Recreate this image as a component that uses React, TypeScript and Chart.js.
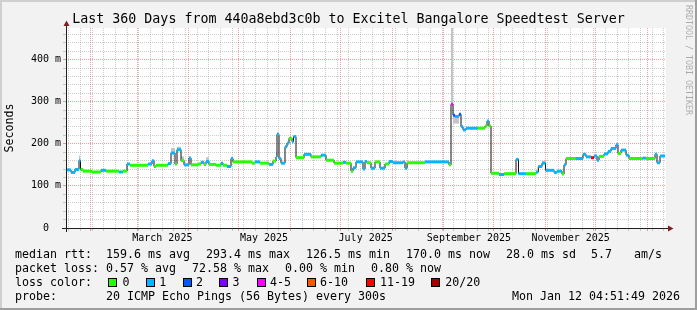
import { useEffect, useRef } from 'react';
import { Chart, registerables } from 'chart.js';

Chart.register(...registerables);

// ---------- texts ----------
const TITLE = 'Last 360 Days from 440a8ebd3c0b to Excitel Bangalore Speedtest Server';
const Y_TITLE = 'Seconds';
const WATERMARK = 'RRDTOOL / TOBI OETIKER';

// ---------- time axis ----------
const END_TIME = Date.UTC(2026, 0, 12, 4, 51, 49);
const RANGE_DAYS = 360;
const DAY_MS = 86400000;
const START_TIME = END_TIME - RANGE_DAYS * DAY_MS;

const monthGridDates = ['2025-02-01', '2025-03-01', '2025-04-01', '2025-05-01', '2025-06-01', '2025-07-01', '2025-08-01', '2025-09-01', '2025-10-01', '2025-11-01', '2025-12-01', '2026-01-01'];
const weekGridFirst = '2025-01-19';
const xLabelDates = ['2025-03-16', '2025-05-16', '2025-07-16', '2025-09-16', '2025-11-16'];
const xLabels = ['March 2025', 'May 2025', 'July 2025', 'September 2025', 'November 2025'];

// ---------- value axis ----------
const Y_MAX = 475;
const Y_GRID_STEP = 20;
const yLabelValues = [0, 100, 200, 300, 400];
const yLabels = ['0  ', '100 m', '200 m', '300 m', '400 m'];

// ---------- loss classes ----------
const lossColors = ['#26ff00', '#00b8ff', '#0059ff', '#7e00ff', '#ff00ff', '#ff5500', '#ff0000', '#a00000'];
const lossLabels = ['0', '1', '2', '3', '4-5', '6-10', '11-19', '20/20'];

// ---------- median rtt (ms), as runs: start day, value, loss class ----------
const runStart = [0, 3, 5.4, 7.8, 8.7, 10.2, 15.6, 21, 24, 31.8, 34.2, 36.6, 38.4, 49.2, 51.6, 52.8, 54, 61.2, 63, 65.4, 66.6, 69, 70.8, 73.8, 75, 79.2, 81, 82.8, 84, 85.8, 90, 93, 94.2, 96.6, 99, 100.2, 111.6, 113.4, 116.4, 121.8, 124.2, 126, 126.6, 127.8, 129, 131.4, 132.6, 133.8, 135.6, 136.5, 138, 142.8, 147, 153, 156, 160.8, 166.2, 168, 171, 172.2, 174, 178.2, 179.4, 180.6, 183, 185.4, 188.4, 191.4, 193.8, 196.2, 202.2, 203.4, 204.6, 215.4, 229.8, 231, 232.2, 233.4, 235.8, 237, 238.2, 240, 247, 251.4, 252.6, 253.8, 255, 259.8, 262.8, 270, 271.5, 276, 282, 283.4, 285.6, 287.7, 292.8, 294.6, 297.6, 298.8, 300, 306, 310.2, 312, 315, 316.8, 318.6, 319.8, 322.8, 325.2, 327, 330, 331.2, 333, 336, 337.8, 346, 348, 353.4, 354.6, 356.4];
const runValue = [138, 132, 139, 160, 139, 135, 133, 137, 135, 133, 135, 152, 149, 152, 160, 146, 149, 153, 178, 152, 186, 160, 150, 166, 150, 152, 156, 151, 158, 151, 149, 154, 149, 146, 165, 157, 154, 157, 154, 151, 159, 169, 222, 165, 154, 193, 201, 213, 205, 217, 167, 175, 169, 173, 161, 154, 156, 154, 135, 143, 157, 140, 158, 155, 142, 157, 142, 152, 158, 155, 157, 142, 155, 157, 150, 294, 268, 265, 270, 241, 233, 237, 237, 242, 254, 242, 130, 127, 129, 163, 129, 129, 133, 146, 154, 137, 132, 135, 128, 150, 165, 165, 175, 169, 167, 171, 161, 170, 176, 182, 189, 198, 177, 185, 173, 165, 166, 165, 175, 155, 171];
const runLoss = [1, 1, 1, 1, 0, 0, 0, 1, 0, 1, 0, 1, 0, 1, 1, 0, 0, 1, 1, 0, 1, 0, 1, 1, 0, 0, 1, 0, 1, 0, 0, 1, 0, 1, 1, 0, 0, 1, 0, 1, 0, 1, 1, 1, 1, 1, 1, 0, 1, 1, 0, 1, 0, 1, 0, 0, 1, 0, 0, 1, 1, 1, 1, 0, 1, 0, 1, 0, 1, 1, 1, 1, 0, 1, 0, 4, 2, 1, 2, 1, 1, 1, 0, 0, 1, 0, 0, 1, 0, 1, 1, 0, 1, 1, 1, 1, 1, 1, 0, 1, 0, 1, 1, 1, 6, 1, 1, 0, 1, 1, 1, 1, 0, 1, 1, 0, 1, 0, 1, 1, 1];
const LAST_DAY = 359.4;

// ---------- smoke (ping spread, ms) ----------
const smokeStart = [7.8, 63, 66.6, 69, 84, 126, 126.6, 136.5, 231, 232.2, 285.6, 330];
const smokeEnd = [8.7, 65.4, 69, 70.8, 85.8, 126.6, 127.8, 138, 232.2, 235.8, 287.7, 331.2];
const smokeLow = [160, 178, 186, 160, 158, 169, 222, 217, 294, 248, 154, 198];
const smokeHigh = [172, 190, 193, 170, 168, 181, 228, 221, 475, 268, 160, 203];

// ---------- legend texts ----------
const rttHead = 'median rtt:';
const rttStats = ['159.6 ms avg', '293.4 ms max', '126.5 ms min', '170.0 ms now', '28.0 ms sd', '5.7', 'am/s'];
const lossHead = 'packet loss:';
const lossStats = ['0.57 % avg', '72.58 % max', '0.00 % min', '0.80 % now'];
const colorHead = 'loss color:';
const probeHead = 'probe:';
const probeText = '20 ICMP Echo Pings (56 Bytes) every 300s';
const stampText = 'Mon Jan 12 04:51:49 2026';

// layout of legend columns (px)
const rttX = [106, 206, 306, 406, 506, 591, 634];
const lossX = [106, 192, 285, 371];
const swatchX = [108, 145.7, 182.7, 219.3, 256.7, 307.3, 365.7, 430.7];
const swatchLabelX = [122.5, 159.2, 195.9, 232.5, 269.9, 319.9, 379.9, 445.2];

const MONO = '"DejaVu Sans Mono", monospace';

const dayOf = (d: string) => (Date.parse(d + 'T00:00:00Z') - START_TIME) / DAY_MS;
const keyOf = (v: number) => Math.round(v * 1000);

type XTick = { value: number; grid: 'minor' | 'major' | 'none'; label: string };

function buildXTicks(): XTick[] {
  const map = new Map<number, XTick>();
  for (let t = Date.parse(weekGridFirst + 'T00:00:00Z'); t < END_TIME; t += 7 * DAY_MS) {
    const v = (t - START_TIME) / DAY_MS;
    map.set(keyOf(v), { value: v, grid: 'minor', label: '' });
  }
  monthGridDates.forEach((d) => {
    const v = dayOf(d);
    map.set(keyOf(v), { value: v, grid: 'major', label: '' });
  });
  xLabelDates.forEach((d, i) => {
    const v = dayOf(d);
    const k = keyOf(v);
    const ex = map.get(k);
    if (ex) ex.label = xLabels[i];
    else map.set(k, { value: v, grid: 'none', label: xLabels[i] });
  });
  return Array.from(map.values())
    .filter((t) => t.value >= 0 && t.value <= RANGE_DAYS)
    .sort((a, b) => a.value - b.value);
}

const MINOR = 'rgba(143,143,143,0.45)';
const MAJOR = 'rgba(222,79,79,0.55)';
const NONE = 'rgba(0,0,0,0)';

export default function App() {
  const ref = useRef<HTMLCanvasElement>(null);

  useEffect(() => {
    const xTicks = buildXTicks();
    const xInfo = new Map<number, XTick>();
    xTicks.forEach((t) => xInfo.set(keyOf(t.value), t));
    const yTickValues: number[] = [];
    for (let v = 0; v < Y_MAX; v += Y_GRID_STEP) yTickValues.push(v);

    const runEnd = (i: number) => (i + 1 < runStart.length ? runStart[i + 1] : LAST_DAY);

    const bandData: any[] = [];
    runStart.forEach((s, i) => {
      bandData.push({ x: s, y: runValue[i] });
      bandData.push({ x: runEnd(i), y: runValue[i] });
      bandData.push({ x: runEnd(i), y: null });
    });
    const lineData = runStart.map((s, i) => ({ x: s, y: runValue[i] }));
    lineData.push({ x: LAST_DAY, y: runValue[runValue.length - 1] });

    const smokeSets = smokeStart.map((s, i) => ({
      type: 'line' as const,
      data: [{ x: s, y: smokeHigh[i] }, { x: smokeEnd[i], y: smokeHigh[i] }],
      borderColor: NONE,
      borderWidth: 1,
      backgroundColor: '#c4c4c4',
      fill: { value: smokeLow[i] },
      pointRadius: 0,
      order: 3,
    }));

    const xTickOf = (c: any): XTick | undefined => (c && c.tick ? xInfo.get(keyOf(c.tick.value)) : undefined);
    const xGridColor = (c: any) => {
      const t = xTickOf(c);
      if (!t) return NONE;
      return t.grid === 'major' ? MAJOR : t.grid === 'minor' ? MINOR : NONE;
    };
    const yGridColor = (c: any) => {
      const v = c.tick ? c.tick.value : 0;
      if (v === 0) return NONE;
      return v % 100 === 0 ? MAJOR : MINOR;
    };

    const frame = {
      id: 'frame',
      beforeDraw(chart: any) {
        const { ctx, chartArea: a } = chart;
        ctx.save();
        ctx.fillStyle = '#ffffff';
        ctx.fillRect(a.left, a.top, a.right - a.left, a.bottom - a.top);
        ctx.restore();
      },
      afterDatasetsDraw(chart: any) {
        const { ctx, chartArea: a } = chart;
        ctx.save();
        ctx.strokeStyle = '#1f1f1f';
        ctx.lineWidth = 1;
        ctx.beginPath();
        ctx.moveTo(a.left - 4, a.bottom + 0.5);
        ctx.lineTo(a.right + 4, a.bottom + 0.5);
        ctx.moveTo(a.left + 0.5, a.bottom + 4);
        ctx.lineTo(a.left + 0.5, a.top - 3);
        ctx.stroke();
        ctx.fillStyle = '#801f1f';
        ctx.beginPath();
        ctx.moveTo(a.right + 2, a.bottom - 2.5);
        ctx.lineTo(a.right + 7.5, a.bottom + 0.5);
        ctx.lineTo(a.right + 2, a.bottom + 3.5);
        ctx.closePath();
        ctx.fill();
        ctx.beginPath();
        ctx.moveTo(a.left - 2.5, a.top - 2);
        ctx.lineTo(a.left + 0.5, a.top - 7.5);
        ctx.lineTo(a.left + 3.5, a.top - 2);
        ctx.closePath();
        ctx.fill();
        ctx.restore();
      },
    };

    const chart = new Chart(ref.current as HTMLCanvasElement, {
      type: 'line',
      data: {
        datasets: [
          {
            data: bandData,
            borderWidth: 3,
            borderColor: lossColors[0],
            borderCapStyle: 'butt',
            pointRadius: 0,
            spanGaps: false,
            fill: false,
            order: 0,
            segment: {
              borderColor: (c: any) => lossColors[runLoss[Math.floor(c.p0DataIndex / 3)]],
            },
          } as any,
          {
            data: lineData,
            borderWidth: 1,
            borderColor: '#111111',
            stepped: true,
            pointRadius: 0,
            fill: false,
            order: 1,
          } as any,
          ...smokeSets,
        ],
      },
      options: {
        animation: false,
        responsive: false,
        devicePixelRatio: 1,
        events: [],
        layout: { padding: { left: 0, right: 31, top: 28, bottom: 0 } },
        plugins: {
          legend: { display: false },
          tooltip: { enabled: false },
          title: { display: false },
        },
        scales: {
          x: {
            type: 'linear',
            min: 0,
            max: RANGE_DAYS,
            afterBuildTicks: (s: any) => {
              s.ticks = xTicks.map((t) => ({ value: t.value }));
            },
            afterFit: (s: any) => {
              s.height = 82;
            },
            grid: {
              color: xGridColor,
              tickColor: xGridColor,
              lineWidth: 1,
              tickLength: 3,
            },
            border: { display: false, dash: [1, 1] },
            ticks: {
              autoSkip: false,
              maxRotation: 0,
              minRotation: 0,
              padding: 1,
              color: '#000',
              font: { family: MONO, size: 10, lineHeight: 1.2 },
              callback: (v: any) => {
                const t = xInfo.get(keyOf(Number(v)));
                return t ? t.label : '';
              },
            },
          },
          y: {
            type: 'linear',
            min: 0,
            max: Y_MAX,
            afterBuildTicks: (s: any) => {
              s.ticks = yTickValues.map((v) => ({ value: v }));
            },
            afterFit: (s: any) => {
              s.width = 66;
            },
            grid: {
              color: yGridColor,
              tickColor: yGridColor,
              lineWidth: 1,
              tickLength: 3,
            },
            border: { display: false, dash: [1, 1] },
            title: {
              display: true,
              text: Y_TITLE,
              color: '#000',
              font: { family: MONO, size: 11.6, lineHeight: 1.2 },
              padding: { top: 3.5, bottom: 0 },
            },
            ticks: {
              autoSkip: false,
              padding: 2,
              color: '#000',
              font: { family: MONO, size: 10, lineHeight: 1.2 },
              callback: (v: any) => {
                const idx = yLabelValues.indexOf(Number(v));
                return idx >= 0 ? yLabels[idx] : '';
              },
            },
          },
        },
      } as any,
      plugins: [frame],
    });
    return () => chart.destroy();
  }, []);

  const legendFont: any = {
    position: 'absolute',
    fontFamily: MONO,
    fontSize: '11.63px',
    lineHeight: '14px',
    whiteSpace: 'pre',
    color: '#000',
  };
  const rowTop = [246.8, 260.8, 274.8, 288.8];

  return (
    <div style={{ position: 'absolute', left: 0, top: 0, width: 697, height: 310, background: '#f2f2f2', overflow: 'hidden' }}>
      <div style={{ position: 'absolute', left: 0, top: 0, width: 697, height: 2, background: '#cfcfcf' }} />
      <div style={{ position: 'absolute', left: 0, top: 0, width: 2, height: 310, background: '#cfcfcf' }} />
      <div style={{ position: 'absolute', left: 0, top: 308, width: 697, height: 2, background: '#9e9e9e' }} />
      <div style={{ position: 'absolute', left: 695, top: 0, width: 2, height: 310, background: '#9e9e9e' }} />
      <canvas ref={ref} width={697} height={310} style={{ position: 'absolute', left: 0, top: 0, width: 697, height: 310 }} />
      <div style={{ position: 'absolute', left: 0, top: 11.4, width: 697, textAlign: 'center', fontFamily: MONO, fontSize: '13.3px', lineHeight: '16px', whiteSpace: 'pre', color: '#000' }}>{TITLE}</div>
      <div style={{ position: 'absolute', left: 684, top: 5, writingMode: 'vertical-rl', fontFamily: MONO, fontSize: '8.3px', lineHeight: '9px', whiteSpace: 'pre', color: 'rgba(0,0,0,0.3)' }}>{WATERMARK}</div>

      <span style={{ ...legendFont, left: 15, top: rowTop[0] }}>{rttHead}</span>
      {rttStats.map((t, i) => (
        <span key={'r' + i} style={{ ...legendFont, left: rttX[i], top: rowTop[0] }}>{t}</span>
      ))}

      <span style={{ ...legendFont, left: 15, top: rowTop[1] }}>{lossHead}</span>
      {lossStats.map((t, i) => (
        <span key={'l' + i} style={{ ...legendFont, left: lossX[i], top: rowTop[1] }}>{t}</span>
      ))}

      <span style={{ ...legendFont, left: 15, top: rowTop[2] }}>{colorHead}</span>
      {lossLabels.map((t, i) => (
        <span key={'c' + i}>
          <span style={{ position: 'absolute', left: swatchX[i], top: 278, width: 9, height: 9, boxSizing: 'border-box', border: '1px solid #000', background: lossColors[i] }} />
          <span style={{ ...legendFont, left: swatchLabelX[i], top: rowTop[2] }}>{t}</span>
        </span>
      ))}

      <span style={{ ...legendFont, left: 15, top: rowTop[3] }}>{probeHead}</span>
      <span style={{ ...legendFont, left: 106, top: rowTop[3] }}>{probeText}</span>
      <span style={{ ...legendFont, left: 512, top: rowTop[3] }}>{stampText}</span>
    </div>
  );
}
